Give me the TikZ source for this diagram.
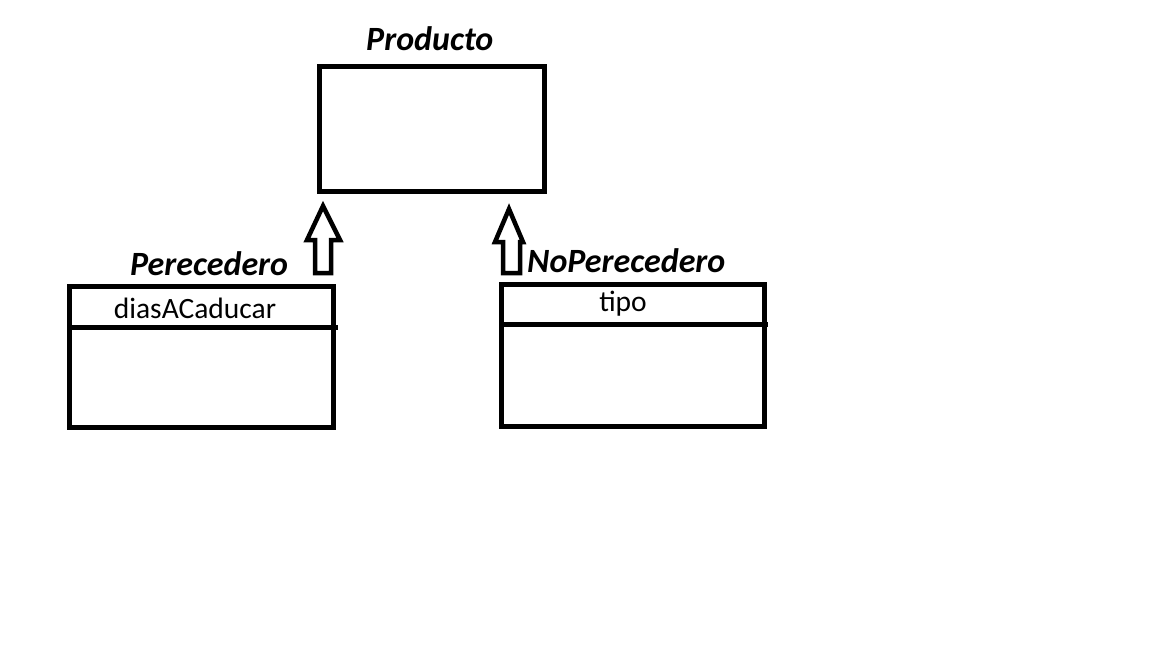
\documentclass[tikz,border=0pt]{standalone}
\usepackage{fontspec}
\setmainfont{Carlito}
\begin{document}
\begin{tikzpicture}[x=1pt,y=-1pt,
  cls/.style={draw=black,line width=5pt,inner sep=0pt,outer sep=0pt,anchor=north west},
  divider/.style={draw=black,line width=5pt},
  title/.style={font=\fontsize{34}{37}\selectfont\bfseries\itshape,inner sep=0pt,anchor=base west},
  attr/.style={font=\fontsize{29.5}{32}\selectfont,inner sep=0pt,anchor=base},
  inherit/.style={draw=black,line width=4.5pt,line join=miter}]
\useasboundingbox[fill=white] (0,0) rectangle (1152,648);
% classes
\node[cls,minimum width=225pt,minimum height=125pt] (prod) at (319,66) {};
\node[cls,minimum width=264pt,minimum height=141.5pt] (per) at (69,286) {};
\node[cls,minimum width=262.5pt,minimum height=142.5pt] (noper) at (501.5,284) {};
% titles
\node[title] (tprod) at (366,50) {Producto};
\node[title] (tper) at (130,275) {Perecedero};
\node[title] (tnoper) at (527,272) {NoPerecedero};
% attributes
\node[attr] (adias) at (195,318) {diasACaducar};
\node[attr] (atipo) at (623,311) {tipo};
% dividers
\coordinate (perD) at (338,327.5);
\coordinate (noperD) at (768,324.5);
\draw[divider] (per.west |- perD) -- (perD);
\draw[divider] (noper.west |- noperD) -- (noperD);
% inheritance arrows
\coordinate (aL) at (323,273);
\coordinate (aR) at (511.5,273);
\draw[inherit] (aL) ++(-8,0) -- ++(0,-33) -- ++(-8,0) -- (323,206) -- (340,240) -- (331,240) -- (331,273) -- cycle;
\draw[inherit] (aR) ++(-8.5,0) -- ++(0,-31) -- ++(-8,0) -- (509,209) -- (523,242) -- (520,242) -- (520,273) -- cycle;
\end{tikzpicture}
\end{document}
